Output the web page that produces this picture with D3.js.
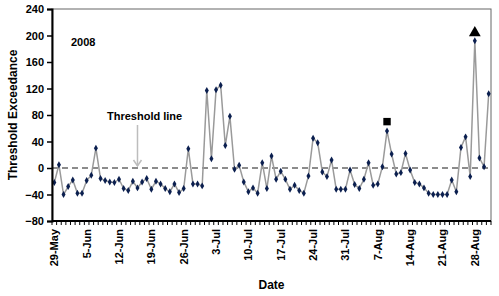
<!DOCTYPE html>
<html>
<head>
<meta charset="utf-8">
<script src="https://cdn.jsdelivr.net/npm/d3@7"></script>
<style>
  body { margin: 0; background: #fff; }
  text { font-family: "Liberation Sans", Arial, sans-serif; font-weight: bold; }
</style>
</head>
<body>
<script>
// daily values, 29 May to 31 Aug 2008
const startDate = new Date(2008, 4, 29)
const exceedance = [
  -22, 5, -40, -28, -18, -38, -38, -19, -11, 30,
  -16, -19, -21, -22, -17, -31, -34, -20, -30, -21,
  -16, -32, -20, -24, -31, -36, -24, -37, -31, 29,
  -24, -24, -27, 117, 14, 118, 125, 34, 78, -2,
  4, -21, -36, -30, -38, 8, -31, 18, -17, -5,
  -17, -32, -26, -34, -38, -12, 45, 38, -6, -13,
  12, -32, -32, -32, -3, -25, -31, -17, 8, -26,
  -24, 2, 56, 21, -9, -7, 22, -3, -22, -24,
  -30, -38, -40, -40, -40, -40, -18, -36, 31, 47,
  -13, 192, 15, 2, 112
]
const yTicks = [-80, -40, 0, 40, 80, 120, 160, 200, 240]
const squareMark = { day: 72, value: 70 }
const triangleMark = { day: 91, value: 204 }

const fmt = d3.timeFormat("%-d-%b")
const dates = exceedance.map((v, i) => d3.timeDay.offset(startDate, i))
const data = exceedance.map((v, i) => ({ date: dates[i], value: v }))

const svgwidth = 499, svgheight = 296
const margin = { top: 9, right: 8, bottom: 75, left: 52 }
const graphwidth = svgwidth - margin.left - margin.right
const graphheight = svgheight - margin.top - margin.bottom

const svg = d3.select("body").append("svg")
  .attr("width", svgwidth).attr("height", svgheight)
const graph = svg.append("g")
  .attr("transform", `translate(${margin.left},${margin.top})`)

const X = d3.scaleBand().domain(dates.map(d => +d)).range([0, graphwidth])
const Y = d3.scaleLinear().domain([-80, 240]).range([graphheight, 0])
const cx = d => X(+d) + X.bandwidth() / 2

// frame
graph.append("rect")
  .attr("width", graphwidth).attr("height", graphheight)
  .attr("fill", "none").attr("stroke", "#666").attr("stroke-width", 1)

// threshold line at 0
graph.append("line")
  .attr("x1", 0).attr("x2", graphwidth)
  .attr("y1", Y(0)).attr("y2", Y(0))
  .attr("stroke", "#8c8c8c").attr("stroke-width", 2)
  .attr("stroke-dasharray", "6,4")

// series
const line = d3.line().x(d => cx(d.date)).y(d => Y(d.value))
graph.append("path").datum(data)
  .attr("d", line).attr("fill", "none")
  .attr("stroke", "#9a9a9a").attr("stroke-width", 1.5)

graph.selectAll(".pt").data(data).enter()
  .append("path").classed("pt", true)
  .attr("d", d3.symbol(d3.symbolDiamond, 14)())
  .attr("transform", d => `translate(${cx(d.date)},${Y(d.value)})`)
  .attr("fill", "#0b1f4f")

// special markers
graph.append("path")
  .attr("d", d3.symbol(d3.symbolSquare, 55)())
  .attr("transform", `translate(${cx(dates[squareMark.day])},${Y(squareMark.value)})`)
  .attr("fill", "#000")
graph.append("path")
  .attr("d", d3.symbol(d3.symbolTriangle, 60)())
  .attr("transform", `translate(${cx(dates[triangleMark.day])},${Y(triangleMark.value)})`)
  .attr("fill", "#000")

// y axis
const yaxis = graph.append("g")
  .call(d3.axisLeft(Y).tickValues(yTicks).tickSize(5).tickPadding(3))
yaxis.select(".domain").attr("stroke", "#000").attr("stroke-width", 2)
yaxis.selectAll("text").attr("font-size", 11).attr("fill", "#000")
  .style("font-family", "'Liberation Sans', Arial, sans-serif").style("font-weight", "bold")
yaxis.selectAll(".tick line").attr("stroke-width", 1.5)

// x axis: minor tick every day, label every 7 days
const xaxis = graph.append("g").attr("transform", `translate(0,${graphheight})`)
xaxis.append("line").attr("x1", 0).attr("x2", graphwidth)
  .attr("stroke", "#000").attr("stroke-width", 2)
xaxis.selectAll(".mt").data(dates.concat([d3.timeDay.offset(dates[dates.length - 1], 1)])).enter()
  .append("line")
  .attr("x1", (d, i) => i < dates.length ? X(+d) : graphwidth)
  .attr("x2", (d, i) => i < dates.length ? X(+d) : graphwidth)
  .attr("y1", 0).attr("y2", 4)
  .attr("stroke", "#000").attr("stroke-width", 1)
xaxis.selectAll(".lbl").data(dates.filter((d, i) => i % 7 === 0)).enter()
  .append("text")
  .attr("transform", d => `translate(${cx(d) + 4},${8}) rotate(-90)`)
  .attr("text-anchor", "end").attr("font-size", 11)
  .text(d => fmt(d))

// axis titles
svg.append("text")
  .attr("transform", `translate(17,${margin.top + graphheight / 2}) rotate(-90)`)
  .attr("text-anchor", "middle").attr("font-size", 12)
  .text("Threshold Exceedance")
svg.append("text")
  .attr("x", margin.left + graphwidth / 2).attr("y", 289)
  .attr("text-anchor", "middle").attr("font-size", 12)
  .text("Date")

// annotations
graph.append("text").attr("x", 19).attr("y", 37)
  .attr("font-size", 11).text("2008")
graph.append("text").attr("x", 55).attr("y", 111)
  .attr("font-size", 11).text("Threshold line")
const ax = cx(dates[18])
graph.append("line")
  .attr("x1", ax).attr("x2", ax).attr("y1", 116).attr("y2", Y(0) - 2)
  .attr("stroke", "#bdbdbd").attr("stroke-width", 1.5)
graph.append("path")
  .attr("d", `M${ax - 4},${Y(0) - 8} L${ax},${Y(0) - 2} L${ax + 4},${Y(0) - 8}`)
  .attr("fill", "none").attr("stroke", "#bdbdbd").attr("stroke-width", 1.5)
</script>
</body>
</html>
